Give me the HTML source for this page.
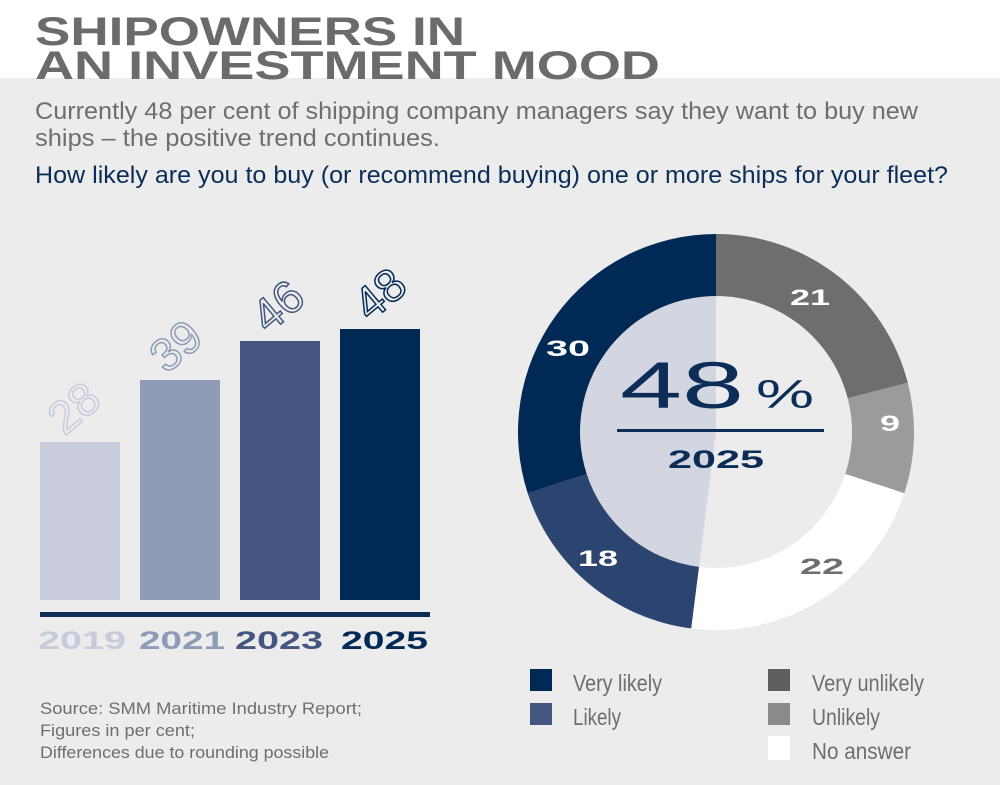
<!DOCTYPE html>
<html><head><meta charset="utf-8"><style>
html,body{margin:0;padding:0;background:#fff;}
svg{display:block}
</style></head><body>
<svg width="1000" height="785" viewBox="0 0 1000 785" xmlns="http://www.w3.org/2000/svg">
<rect x="0" y="0" width="1000" height="785" fill="#fff"/>
<rect x="0" y="78" width="1000" height="707" fill="#ececec"/>
<g font-family="Liberation Sans, sans-serif" font-weight="bold" fill="#6b6b6b" font-size="40">
<text x="35" y="45" textLength="430" lengthAdjust="spacingAndGlyphs">SHIPOWNERS IN</text>
<text x="35" y="79" textLength="625" lengthAdjust="spacingAndGlyphs">AN INVESTMENT MOOD</text>
</g>
<g font-family="Liberation Sans Narrow, Liberation Sans, sans-serif" font-size="24">
<text x="35" y="119" fill="#6e6e6e" textLength="883" lengthAdjust="spacingAndGlyphs">Currently 48 per cent of shipping company managers say they want to buy new</text>
<text x="35" y="146" fill="#6e6e6e" textLength="405" lengthAdjust="spacingAndGlyphs">ships – the positive trend continues.</text>
<text x="35" y="183" fill="#0c2d57" textLength="913" lengthAdjust="spacingAndGlyphs">How likely are you to buy (or recommend buying) one or more ships for your fleet?</text>
</g>
<!-- bars -->
<rect x="40" y="442" width="80" height="158" fill="#c8cbdc"/>
<rect x="140" y="380" width="80" height="220" fill="#8e9ab6"/>
<rect x="240" y="341" width="80" height="259" fill="#44567f"/>
<rect x="340" y="329" width="80" height="271" fill="#002a55"/>
<rect x="40" y="612" width="390" height="5" fill="#0d2c56"/>
<g font-family="Liberation Sans, sans-serif" font-size="46" text-anchor="middle">
<text transform="translate(84,420) rotate(-40)" fill="none" stroke="#c8cbdc" stroke-width="1.5">28</text>
<text transform="translate(186,358) rotate(-40)" fill="none" stroke="#8e9ab6" stroke-width="1.5">39</text>
<text transform="translate(288,318) rotate(-40)" fill="none" stroke="#44567f" stroke-width="1.5">46</text>
<text transform="translate(390,306) rotate(-40)" fill="none" stroke="#002a55" stroke-width="1.5">48</text>
</g>
<g font-family="Liberation Sans, sans-serif" font-weight="bold" font-size="25">
<text x="38" y="649" fill="#c8cbdc" textLength="88" lengthAdjust="spacingAndGlyphs">2019</text>
<text x="139" y="649" fill="#8e9ab6" textLength="86" lengthAdjust="spacingAndGlyphs">2021</text>
<text x="235" y="649" fill="#44567f" textLength="88" lengthAdjust="spacingAndGlyphs">2023</text>
<text x="341" y="649" fill="#002a55" textLength="87" lengthAdjust="spacingAndGlyphs">2025</text>
</g>
<g font-family="Liberation Sans Narrow, Liberation Sans, sans-serif" font-size="17" fill="#6e6e6e">
<text x="40" y="714" textLength="322" lengthAdjust="spacingAndGlyphs">Source: SMM Maritime Industry Report;</text>
<text x="40" y="736" textLength="155" lengthAdjust="spacingAndGlyphs">Figures in per cent;</text>
<text x="40" y="758" textLength="289" lengthAdjust="spacingAndGlyphs">Differences due to rounding possible</text>
</g>
<!-- donut -->
<path d="M716,432 L716,296 A136,136 0 0 0 699,566.9 Z" fill="#d3d6e0"/>
<path d="M716,234 A198,198 0 0 1 907.8,382.8 L847.7,398.2 A136,136 0 0 0 716,296 Z" fill="#6e6e6e"/>
<path d="M907.8,382.8 A198,198 0 0 1 904.3,493.2 L845.3,474 A136,136 0 0 0 847.7,398.2 Z" fill="#9b9b9b"/>
<path d="M904.3,493.2 A198,198 0 0 1 691.2,628.4 L699,566.9 A136,136 0 0 0 845.3,474 Z" fill="#ffffff"/>
<path d="M691.2,628.4 A198,198 0 0 1 527.7,493.2 L586.7,474 A136,136 0 0 0 699,566.9 Z" fill="#2c4470"/>
<path d="M527.7,493.2 A198,198 0 0 1 716,234 L716,296 A136,136 0 0 0 586.7,474 Z" fill="#002a55"/>
<g font-family="Liberation Sans, sans-serif" font-weight="bold" font-size="22" text-anchor="middle">
<text x="568" y="356" fill="#fff" textLength="44" lengthAdjust="spacingAndGlyphs">30</text>
<text x="810" y="305" fill="#fff" textLength="40" lengthAdjust="spacingAndGlyphs">21</text>
<text x="890" y="431" fill="#fff" textLength="20" lengthAdjust="spacingAndGlyphs">9</text>
<text x="822" y="574" fill="#6e6e6e" textLength="44" lengthAdjust="spacingAndGlyphs">22</text>
<text x="598" y="566" fill="#fff" textLength="40" lengthAdjust="spacingAndGlyphs">18</text>
</g>
<text x="620" y="408" font-family="Liberation Sans, sans-serif" font-size="66" fill="#0c2d57" textLength="124" lengthAdjust="spacingAndGlyphs">48</text>
<text x="756" y="408" font-family="Liberation Sans, sans-serif" font-size="40" fill="#0c2d57" textLength="58" lengthAdjust="spacingAndGlyphs">%</text>
<rect x="617" y="429" width="207" height="3" fill="#0c2d57"/>
<text x="716" y="468" text-anchor="middle" font-family="Liberation Sans, sans-serif" font-weight="bold" font-size="25" fill="#0c2d57" textLength="96" lengthAdjust="spacingAndGlyphs">2025</text>
<!-- legend -->
<rect x="530" y="669" width="22" height="22" fill="#002a55"/>
<rect x="530" y="703" width="22" height="22" fill="#44567f"/>
<rect x="768" y="669" width="22" height="22" fill="#5e5e5e"/>
<rect x="768" y="703" width="22" height="22" fill="#8a8a8a"/>
<rect x="768" y="736" width="22" height="24" fill="#ffffff"/>
<g font-family="Liberation Sans Narrow, Liberation Sans, sans-serif" font-size="23" fill="#6e6e6e">
<text x="573" y="691" textLength="89" lengthAdjust="spacingAndGlyphs">Very likely</text>
<text x="573" y="725" textLength="48" lengthAdjust="spacingAndGlyphs">Likely</text>
<text x="812" y="691" textLength="112" lengthAdjust="spacingAndGlyphs">Very unlikely</text>
<text x="812" y="725" textLength="68" lengthAdjust="spacingAndGlyphs">Unlikely</text>
<text x="812" y="759" textLength="99" lengthAdjust="spacingAndGlyphs">No answer</text>
</g>
</svg>
</body></html>
